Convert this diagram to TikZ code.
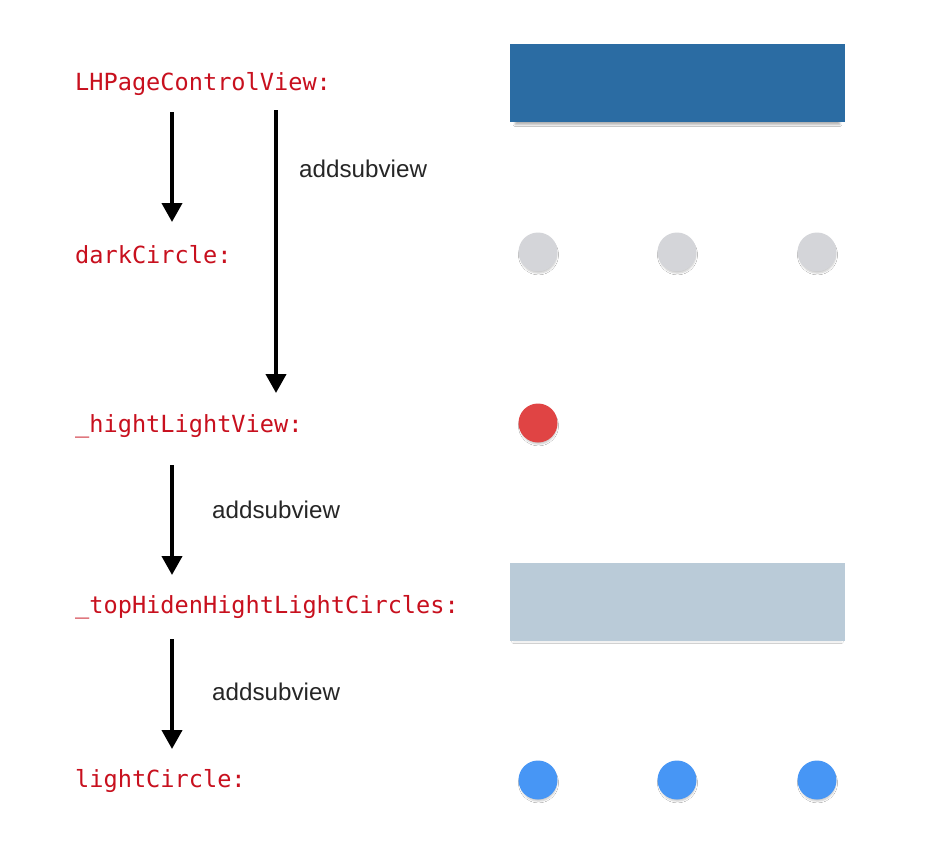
\documentclass[tikz,border=0pt]{standalone}
\usepackage{fontspec}
\setmainfont{Liberation Sans}
\newfontfamily\codefont{DejaVu Sans Mono}
\usetikzlibrary{arrows.meta,shadows.blur}
\definecolor{codered}{RGB}{200,16,30}
\definecolor{darkblue}{RGB}{43,108,163}
\definecolor{graycirc}{RGB}{212,213,217}
\definecolor{redcirc}{RGB}{224,68,68}
\definecolor{lightrect}{RGB}{186,203,216}
\definecolor{bluecirc}{RGB}{71,150,245}
\tikzset{
  codelabel/.style={anchor=base west, inner sep=0pt, text=codered, font=\codefont\fontsize{23.6}{26}\selectfont},
  actlabel/.style={anchor=base west, inner sep=0pt, text=black!85, font=\fontsize{24.2}{26}\selectfont},
  flowarrow/.style={line width=4pt, -{Triangle[width=20pt,length=19pt]}},
  dot/.style={circle, minimum size=39pt, inner sep=0pt, draw=none, blur shadow={shadow xshift=0.5pt, shadow yshift=-3pt, shadow scale=0.94, shadow opacity=22, shadow blur steps=5, shadow blur radius=1.8pt}},
  bar/.style={rectangle, minimum width=335pt, minimum height=78pt, inner sep=0pt, draw=none}
}
\begin{document}
\begin{tikzpicture}[x=1pt,y=-1pt]
\useasboundingbox[fill=white] (0,0) rectangle (952,860);
% labels
\node[codelabel] (lh) at (75,90) {LHPageControlView:};
\node[codelabel] (dc) at (75,263) {darkCircle:};
\node[codelabel] (hl) at (75,432) {\_hightLightView:};
\node[codelabel] (th) at (75,613) {\_topHidenHightLightCircles:};
\node[codelabel] (lc) at (75,787) {lightCircle:};
% arrows
\coordinate (a1s) at (172,112); \coordinate (a1e) at (172,222);
\coordinate (a2s) at (276,110); \coordinate (a2e) at (276,393);
\coordinate (a3s) at (172,465); \coordinate (a3e) at (172,575);
\coordinate (a4s) at (172,639); \coordinate (a4e) at (172,749);
\draw[flowarrow] (a1s) -- (a1e);
\draw[flowarrow] (a2s) -- (a2e);
\draw[flowarrow] (a3s) -- (a3e);
\draw[flowarrow] (a4s) -- (a4e);
\node[actlabel] (t1) at (299,177) {addsubview};
\node[actlabel] (t2) at (212,518) {addsubview};
\node[actlabel] (t3) at (212,700) {addsubview};
% right side
\node[bar, fill=darkblue, blur shadow={shadow xshift=0pt, shadow yshift=-4pt, shadow scale=0.97, shadow opacity=30, shadow blur steps=5, shadow blur radius=2pt}] (r1) at (677.5,83) {};
\node[dot, fill=graycirc] (g1) at (538,252) {};
\node[dot, fill=graycirc] (g2) at (677,252) {};
\node[dot, fill=graycirc] (g3) at (817,252) {};
\node[dot, fill=redcirc] (rc) at (538,423) {};
\node[bar, fill=lightrect, blur shadow={shadow xshift=0pt, shadow yshift=-2pt, shadow scale=0.98, shadow opacity=8, shadow blur steps=4, shadow blur radius=1.5pt}] (r2) at (677.5,602) {};
\node[dot, fill=bluecirc] (b1) at (538,780) {};
\node[dot, fill=bluecirc] (b2) at (677,780) {};
\node[dot, fill=bluecirc] (b3) at (817,780) {};
\end{tikzpicture}
\end{document}
